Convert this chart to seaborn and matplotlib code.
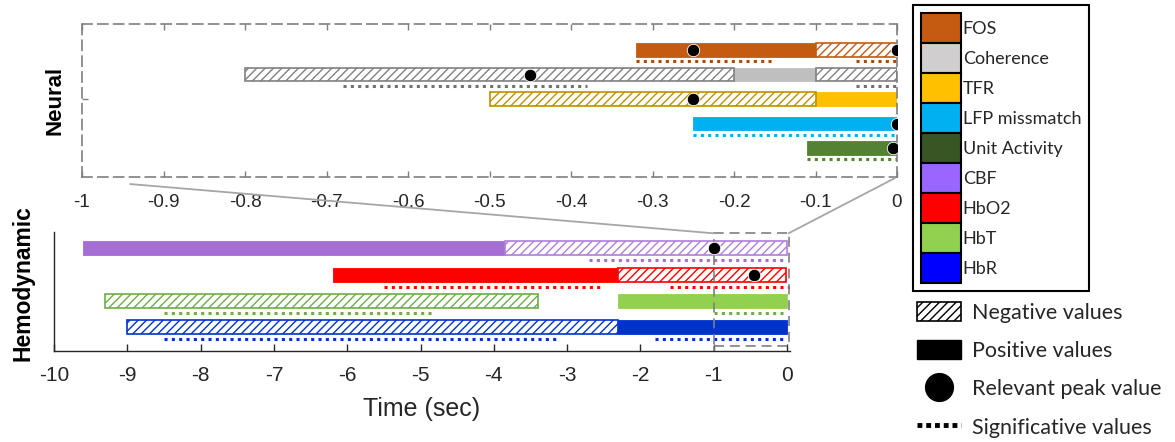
import matplotlib
matplotlib.use("Agg")
import matplotlib.pyplot as plt
import seaborn as sns
import pandas as pd
from matplotlib.patches import Patch, Rectangle, ConnectionPatch
from matplotlib.lines import Line2D
from matplotlib.ticker import FuncFormatter

# ---------------- Neural measures (zoomed window, seconds) ----------------
neural_names = ["FOS", "Coherence", "TFR", "LFP missmatch", "Unit Activity"]
neural_positive = [[(-0.32, -0.10)], [(-0.20, -0.10)], [(-0.10, 0.00)],
                   [(-0.25, 0.00)], [(-0.11, 0.00)]]
neural_negative = [[(-0.10, 0.00)], [(-0.80, -0.20), (-0.10, 0.00)],
                   [(-0.50, -0.10)], [], []]
neural_peaks = [[-0.25, 0.00], [-0.45], [-0.25], [0.00], [-0.005]]
neural_significant = [[(-0.32, -0.15), (-0.05, 0.00)],
                      [(-0.68, -0.38), (-0.05, 0.00)],
                      [], [(-0.25, 0.00)], [(-0.11, 0.00)]]

# ---------------- Hemodynamic measures (seconds) ----------------
hemo_names = ["CBF", "HbO2", "HbT", "HbR"]
hemo_positive = [[(-9.60, -3.85)], [(-6.20, -2.30)], [(-2.30, 0.00)], [(-2.30, 0.00)]]
hemo_negative = [[(-3.85, 0.00)], [(-2.30, -0.02)], [(-9.30, -3.40)], [(-9.00, -2.30)]]
hemo_peaks = [[-1.00], [-0.45], [], []]
hemo_significant = [[(-2.70, 0.00)],
                    [(-5.50, -2.50), (-1.60, 0.05)],
                    [(-8.50, -4.85), (-1.00, 0.00)],
                    [(-8.50, -3.10), (-1.80, 0.00)]]

neural_ticks = [-1.0, -0.9, -0.8, -0.7, -0.6, -0.5, -0.4, -0.3, -0.2, -0.1, 0.0]
hemo_ticks = [-10, -9, -8, -7, -6, -5, -4, -3, -2, -1, 0]
zoom_window = (-1.0, 0.0)

# colours
neural_fill = ["#C55A11", "#BFBFBF", "#FFC000", "#00B0F0", "#548235"]
neural_edge = ["#C55A11", "#808080", "#BF9000", "#00B0F0", "#548235"]
neural_dots = ["#A84A10", "#707070", "#BF9000", "#00B0F0", "#548235"]
hemo_fill = ["#A66DD4", "#FF0000", "#92D050", "#0033CC"]
hemo_edge = ["#B07EDC", "#FF0000", "#70AD47", "#0033CC"]
hemo_dots = ["#A66DD4", "#FF0000", "#70AD47", "#0033CC"]
legend_colors = ["#C55A11", "#D0CECE", "#FFC000", "#00B0F0", "#375623",
                 "#9966FF", "#FF0000", "#92D050", "#0000FF"]

sns.set_theme(style="white")
plt.rcParams["font.family"] = ["Liberation Sans", "DejaVu Sans"]
plt.rcParams["axes.unicode_minus"] = False
plt.rcParams["hatch.linewidth"] = 1.0

AX_COL = "#262626"
FRAME_COL = "#7F7F7F"

fig = plt.figure(figsize=(11.75, 4.42), dpi=100)
W, H = 1175, 442


def fig_box(left, top, right, bottom):
    return [left / W, 1 - bottom / H, (right - left) / W, (bottom - top) / H]


ax_in = fig.add_axes(fig_box(82, 24, 897, 177))
ax_hb = fig.add_axes(fig_box(54, 232, 790, 350.7))


def draw_rows(ax, rows, positive, negative, peaks, significant,
              fill, edge, dots, bar_h, sig_off):
    for y, pos, neg, sig, fc, ec, dc in zip(rows, positive, negative,
                                            significant, fill, edge, dots):
        for a, b in pos:
            ax.barh(y, b - a, left=a, height=bar_h, color=fc,
                    edgecolor=fc, linewidth=0.6, zorder=2)
        for a, b in neg:
            ax.barh(y, b - a, left=a, height=bar_h, color="white",
                    edgecolor=ec, hatch="////", linewidth=1.2, zorder=2)
        for a, b in sig:
            ax.plot([a, b], [y - sig_off, y - sig_off], color=dc, lw=2.2,
                    linestyle=(0, (1, 1.4)), dash_capstyle="butt", zorder=2)
    px, py = [], []
    for y, pk in zip(rows, peaks):
        px += pk
        py += [y] * len(pk)
    df = pd.DataFrame({"time": px, "row": py})
    sns.scatterplot(data=df, x="time", y="row", ax=ax, color="black", s=80,
                    edgecolor="white", linewidth=0.6, zorder=6, legend=False)
    ax.set_xlabel("")
    ax.set_ylabel("")


fmt = FuncFormatter(lambda v, _: "%g" % round(v, 2))

# ---------------- neural panel ----------------
neural_rows = [5, 4, 3, 2, 1]
draw_rows(ax_in, neural_rows, neural_positive, neural_negative, neural_peaks,
          neural_significant, neural_fill, neural_edge, neural_dots,
          bar_h=0.54, sig_off=0.46)
ax_in.set_xlim(*zoom_window)
ax_in.set_ylim(-0.18, 6.06)
ax_in.set_xticks(neural_ticks)
ax_in.xaxis.set_major_formatter(fmt)
ax_in.set_yticks([3])
ax_in.tick_params(axis="x", direction="in", top=True, bottom=True, length=4,
                  width=1, color=FRAME_COL, labelsize=13.5, labelcolor=AX_COL,
                  pad=12)
ax_in.tick_params(axis="y", direction="in", left=True, right=False, length=4,
                  width=1, color=FRAME_COL, labelleft=False)
for sp in ax_in.spines.values():
    sp.set_visible(True)
    sp.set_color(FRAME_COL)
    sp.set_linewidth(1.2)
    sp.set_linestyle((0, (6, 3.5)))
ax_in.set_facecolor("none")

# ---------------- hemodynamic panel ----------------
hemo_rows = [4, 3, 2, 1]
draw_rows(ax_hb, hemo_rows, hemo_positive, hemo_negative, hemo_peaks,
          hemo_significant, hemo_fill, hemo_edge, hemo_dots,
          bar_h=0.53, sig_off=0.46)
ax_hb.set_xlim(-10, 0.04)
ax_hb.set_ylim(0.11, 4.62)
ax_hb.set_xticks(hemo_ticks)
ax_hb.xaxis.set_major_formatter(fmt)
ax_hb.set_yticks([])
ax_hb.tick_params(axis="x", direction="in", bottom=True, length=5, width=1,
                  color=AX_COL, labelsize=15, labelcolor=AX_COL, pad=11)
for name in ("top", "right"):
    ax_hb.spines[name].set_visible(False)
for name in ("left", "bottom"):
    ax_hb.spines[name].set_color(AX_COL)
    ax_hb.spines[name].set_linewidth(1.0)
ax_hb.set_xlabel("Time (sec)", fontsize=18, color=AX_COL, labelpad=9)

# zoom window outline in the hemodynamic panel
z0, z1 = zoom_window
box_bottom, box_top = 0.28, 4.57
ax_hb.add_patch(Rectangle((z0, box_bottom), z1 - z0 + 0.02, box_top - box_bottom,
                          fill=False, edgecolor=FRAME_COL, linewidth=1.2,
                          linestyle=(0, (6, 3.5)), zorder=4))
ax_hb.plot([z0, z0], [0.11, box_bottom], color=FRAME_COL, lw=1.2,
           linestyle=(0, (6, 3.5)), zorder=4)

# connectors between the zoom window and the neural panel
for xa, ya, xb in [(0.059, -0.046, z0), (0.9975, -0.007, z1 + 0.02)]:
    con = ConnectionPatch(xyA=(xa, ya), coordsA=ax_in.transAxes,
                          xyB=(xb, box_top), coordsB=ax_hb.transData,
                          color="#A6A6A6", linewidth=1.3, zorder=1)
    fig.add_artist(con)

# panel titles
fig.text(55 / W, 1 - 100 / H, "Neural", rotation=90, ha="center", va="center",
         fontsize=16, fontweight="bold", color="black")
fig.text(23.5 / W, 1 - 283 / H, "Hemodynamic", rotation=90, ha="center",
         va="center", fontsize=16.5, fontweight="bold", color="black")

# ---------------- legends ----------------
color_handles = [Patch(facecolor=c, edgecolor="black", linewidth=1.5)
                 for c in legend_colors]
leg1 = fig.legend(color_handles, neural_names + hemo_names, loc="upper left",
                  bbox_to_anchor=(913 / W, 1 - 5 / H),
                  bbox_transform=fig.transFigure, frameon=True, fancybox=False,
                  edgecolor="black", framealpha=1,
                  prop={"family": "Lato", "size": 13},
                  handlelength=2.2, handleheight=2.18, handletextpad=0.1,
                  labelspacing=0.0, borderpad=0.45, borderaxespad=0)
leg1.get_frame().set_linewidth(1.5)
for t in leg1.get_texts():
    t.set_color("#262626")

key_handles = [
    Patch(facecolor="white", edgecolor="black", hatch="////", linewidth=1.2),
    Patch(facecolor="black", edgecolor="black"),
    Line2D([], [], marker="o", linestyle="none", markersize=20, color="black"),
    Line2D([], [], color="black", lw=3.5, linestyle=(0, (1, 0.8)),
           dash_capstyle="butt"),
]
key_labels = ["Negative values", "Positive values", "Relevant peak value",
              "Significative values"]
leg2 = fig.legend(key_handles, key_labels, loc="upper left",
                  bbox_to_anchor=(917 / W, 1 - 302 / H),
                  bbox_transform=fig.transFigure, frameon=False,
                  prop={"family": "Lato", "size": 15.5},
                  handlelength=2.05, handleheight=1.0, handletextpad=0.5,
                  labelspacing=0.8, borderpad=0, borderaxespad=0)
for t in leg2.get_texts():
    t.set_color("#262626")

fig.savefig("out.png", dpi=100, facecolor="white")
